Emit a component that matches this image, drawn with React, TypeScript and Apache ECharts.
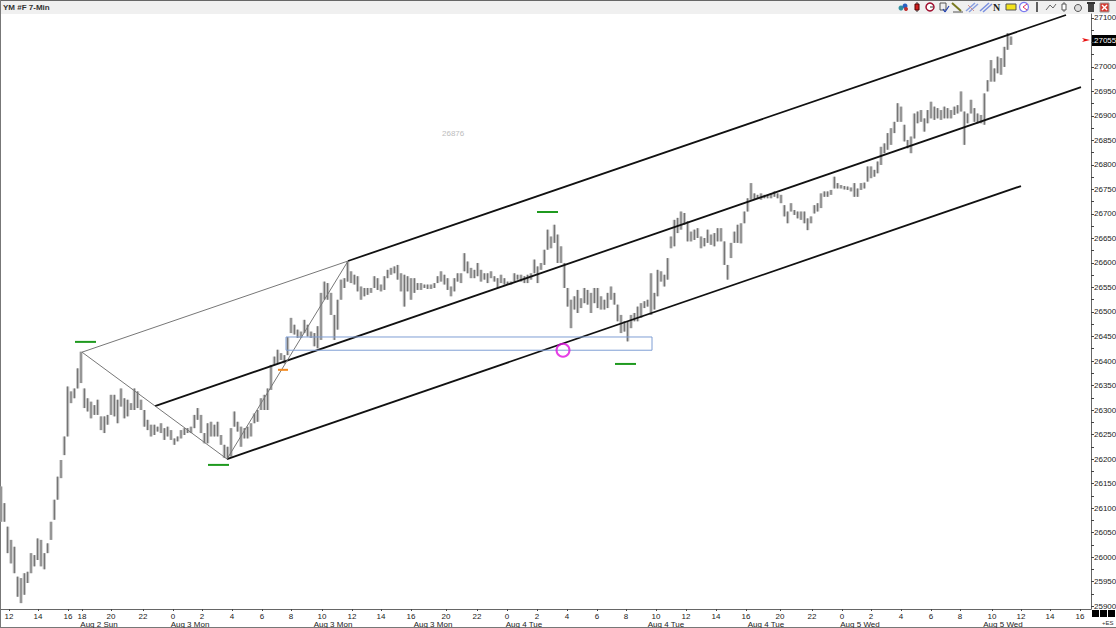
import React, { useEffect, useRef } from "react";
import * as echarts from "echarts";

const title = "YM #F 7-Min";
const lastPrice = 27055;
const markerText = "26876";
const extraLabel = "+ES";

// [high, low] of each bar
const highLow = [
[26144,26072],[26110,26072],[26062,26008],[26035,25987],[26021,25967],[25960,25919],[25957,25906],[25967,25923],[25970,25947],[26008,25967],
[26004,25981],[26038,25994],[26035,25981],[26008,25975],[26028,26008],[26072,26035],[26117,26076],[26164,26117],[26198,26161],[26246,26208],
[26348,26246],[26338,26314],[26344,26324],[26385,26344],[26419,26355],[26344,26304],[26324,26297],[26317,26283],[26310,26290],[26321,26290],
[26287,26259],[26287,26253],[26290,26270],[26331,26290],[26331,26287],[26321,26273],[26344,26307],[26324,26283],[26321,26287],[26314,26300],
[26344,26300],[26338,26304],[26321,26300],[26300,26266],[26280,26259],[26270,26246],[26270,26249],[26266,26256],[26273,26253],[26263,26239],
[26266,26246],[26259,26239],[26242,26229],[26246,26236],[26259,26242],[26263,26249],[26263,26253],[26266,26253],[26290,26263],[26304,26280],
[26290,26253],[26253,26232],[26273,26232],[26276,26246],[26270,26246],[26276,26246],[26249,26229],[26229,26202],[26225,26200],[26263,26205],
[26297,26266],[26276,26256],[26266,26225],[26263,26242],[26266,26242],[26273,26246],[26293,26273],[26300,26276],[26324,26300],[26331,26300],
[26344,26300],[26392,26341],[26409,26392],[26423,26395],[26416,26402],[26412,26395],[26449,26412],
[26488,26457],[26474,26454],[26464,26447],[26460,26447],[26484,26457],[26474,26450],[26460,26447],[26457,26430],[26471,26426],[26539,26443],
[26562,26525],[26559,26525],[26539,26494],[26494,26443],[26525,26464],[26566,26525],[26569,26549],[26603,26562],[26583,26559],[26576,26556],
[26573,26542],[26552,26525],[26549,26532],[26549,26535],[26549,26539],[26573,26549],[26569,26545],[26556,26542],[26573,26545],[26586,26569],
[26590,26576],[26593,26579],[26596,26566],[26579,26542],[26576,26511],[26573,26542],[26569,26525],[26569,26539],[26559,26545],[26559,26545],
[26556,26549],[26556,26547],[26556,26547],[26559,26549],[26573,26559],[26583,26562],[26576,26556],[26569,26545],[26552,26532],[26569,26542],
[26579,26562],[26579,26559],[26620,26583],[26603,26579],[26590,26569],[26586,26569],[26600,26573],[26586,26562],[26579,26566],[26579,26559],
[26583,26569],[26573,26562],[26569,26549],[26576,26559],[26569,26556],[26562,26556],[26562,26556],[26579,26562],[26576,26566],[26576,26562],
[26573,26559],[26576,26559],[26579,26566],[26607,26579],[26593,26559],[26600,26586],
[26627,26596],[26668,26627],[26654,26630],[26678,26641],[26658,26600],[26634,26600],[26600,26549],[26549,26511],[26525,26467],[26532,26505],
[26545,26498],[26528,26508],[26549,26518],[26545,26515],[26539,26498],[26549,26518],[26549,26508],[26532,26505],[26525,26505],[26539,26508],
[26552,26525],[26539,26515],[26515,26481],[26494,26457],[26481,26460],[26481,26440],[26494,26467],[26498,26481],[26511,26481],[26518,26488],
[26522,26508],[26525,26511],[26579,26494],[26539,26505],[26586,26532],[26583,26562],[26576,26552],[26610,26566],[26654,26630],[26688,26634],
[26692,26661],[26705,26668],[26702,26678],[26685,26644],[26664,26644],[26668,26647],[26671,26651],[26654,26630],[26651,26634],[26668,26641],
[26658,26637],[26661,26634],[26671,26644],[26671,26644],[26644,26596],[26596,26566],[26641,26610],[26664,26641],[26678,26641],
[26681,26640],[26705,26681],[26732,26705],[26763,26729],[26742,26729],[26739,26732],[26742,26729],[26739,26732],[26739,26732],[26742,26732],
[26746,26735],[26742,26732],[26739,26722],[26718,26695],[26705,26681],[26722,26705],[26708,26698],[26705,26691],[26705,26688],[26705,26681],
[26691,26667],[26695,26681],[26718,26701],[26722,26705],[26742,26712],[26746,26735],[26746,26735],[26749,26739],[26776,26752],[26763,26752],
[26759,26752],[26757,26750],[26756,26749],[26754,26746],[26763,26735],[26752,26735],[26763,26749],[26764,26752],[26797,26766],[26797,26773],
[26790,26776],[26807,26783],[26837,26800],[26844,26824],[26865,26831],[26875,26841],[26888,26865],[26926,26888],[26919,26888],[26882,26848],
[26851,26834],[26858,26824],[26905,26854],[26909,26885],[26912,26888],[26895,26868],[26912,26885],[26929,26895],[26919,26892],[26916,26895],
[26912,26892],[26919,26895],[26916,26895],[26912,26895],[26919,26902],[26922,26905],[26950,26909],[26909,26841],[26905,26885],[26933,26905],
[26916,26888],[26905,26885],[26902,26885],[26946,26882],[26973,26950],[27014,26970],[26997,26970],[27021,26987],[27018,26984],[27041,27000],
[27069,27035],[27062,27045],
];

// x position in bar units, y in price
const upperChannel = [[104.1,26604],[319.5,27106]];
const medianChannel = [[46.2,26308],[324,26959]];
const lowerChannel = [[67.8,26200],[306,26757]];
const swingLines = [[[24.3,26418],[104.1,26604]],[[24.3,26418],[67.8,26200]],[[67.8,26200],[104.1,26604]]];
const greenDashes = [[[22.2,26439],[28.5,26439]],[[62.1,26188],[68.4,26188]],[[160.8,26704],[167.1,26704]],[[184.2,26394],[190.5,26394]]];
const orangeDash = [[83.1,26382],[86.1,26382]];
const zoneBox = [[85.5,26449],[195.3,26449],[195.3,26422],[85.5,26422],[85.5,26449]];
const touchPoint = [[168.6,26422]];

const hourTicks = [2.4,11.1,20.1,24.3,33,42.6,51.6,60.3,69.3,78.3,87,96.3,105.3,114,123,133.5,142.8,151.8,160.8,169.8,178.8,187.5,196.5,205.5,214.5,223.5,233.7,243.3,252.3,261,270,279,287.7,297.3,306,314.7,323.7];
const hourLabels = ["12","14","16","18","20","22","0","2","4","6","8","10","12","14","16","20","22","0","2","4","6","8","10","12","14","16","20","22","0","2","4","6","8","10","12","14","16"];
const dateTicks = [29.4,56.7,99.6,129.6,156.9,199.5,229.5,257.7,300.6];
const dateLabels = ["Aug 2 Sun","Aug 3 Mon","Aug 3 Mon","Aug 3 Mon","Aug 4 Tue","Aug 4 Tue","Aug 4 Tue","Aug 5 Wed","Aug 5 Wed"];
const priceLabels = [27100,27000,26950,26900,26850,26800,26750,26700,26650,26600,26550,26500,26450,26400,26350,26300,26250,26200,26150,26100,26050,26000,25950,25900];
const priceTicks = [27100,27075,27050,27025,27000,26975,26950,26925,26900,26875,26850,26825,26800,26775,26750,26725,26700,26675,26650,26625,26600,26575,26550,26525,26500,26475,26450,26425,26400,26375,26350,26325,26300,26275,26250,26225,26200,26175,26150,26125,26100,26075,26050,26025,26000,25975,25950,25925,25900];

const FONT = "Liberation Sans";

function lineSeries(data: number[][], color: string, width: number) {
  return { type: "line", data, symbol: "none", silent: true, lineStyle: { color, width }, z: 5, animation: false };
}

function toolbar() {
  const ln = (x1: number, y1: number, x2: number, y2: number, stroke: string, lineWidth = 1) => ({ type: "line", shape: { x1, y1, x2, y2 }, style: { stroke, lineWidth } });
  return [
    { type: "circle", shape: { cx: 901, cy: 8, r: 2.5 }, style: { fill: "#2f8f9f" } },
    { type: "circle", shape: { cx: 905, cy: 6, r: 2.5 }, style: { fill: "#2a60c0" } },
    { type: "circle", shape: { cx: 906, cy: 9, r: 2 }, style: { fill: "#c03030" } },
    ln(917, 2, 917, 12, "#333"),
    { type: "rect", shape: { x: 915, y: 4, width: 4, height: 6 }, style: { fill: "#d02020", stroke: "#500" } },
    { type: "circle", shape: { cx: 930, cy: 7, r: 4 }, style: { fill: "#fff", stroke: "#a01030", lineWidth: 1.5 } },
    ln(930, 7, 933, 7, "#333"),
    { type: "rect", shape: { x: 940, y: 3, width: 6, height: 7 }, style: { fill: "#eee", stroke: "#555" } },
    ln(943, 9, 945, 12, "#2040b0", 1.2), ln(945, 12, 949, 6, "#2040b0", 1.2),
    ln(952, 3, 961, 11, "#7a7a20", 2), ln(953, 12, 963, 12, "#555"),
    ln(966, 11, 975, 3, "#8aa0e0", 1.5), ln(969, 12, 978, 4, "#8aa0e0", 1.5), ln(968, 5, 974, 11, "#d09090"),
    ln(980, 11, 989, 3, "#7a90e0", 1.5), ln(983, 12, 992, 4, "#7a90e0", 1.5),
    { type: "text", x: 993, y: 2, style: { text: "N", font: "bold 10px 'Liberation Serif'", fill: "#222" } },
    { type: "rect", shape: { x: 1006, y: 4, width: 10, height: 6 }, style: { fill: "#f2e21a", stroke: "#555" } },
    { type: "circle", shape: { cx: 1024, cy: 7, r: 4.5 }, style: { fill: "#fff", stroke: "#7a7af0", lineWidth: 1.2 } },
    ln(1023, 7, 1027, 4, "#e03060"), ln(1023, 7, 1027, 10, "#e03060"),
    ln(1037, 2, 1037, 12, "#222", 1.4),
    { type: "polyline", shape: { points: [[1046, 10], [1050, 5], [1053, 8], [1056, 4]] }, style: { stroke: "#666", fill: "none" } },
    ln(1064, 2, 1064, 12, "#666"),
    { type: "rect", shape: { x: 1062, y: 4, width: 4, height: 6 }, style: { fill: "#fff", stroke: "#555" } },
    { type: "circle", shape: { cx: 1078, cy: 8, r: 3.5 }, style: { fill: "#ddd", stroke: "#555" } },
    { type: "rect", shape: { x: 1088, y: 4, width: 6, height: 8 }, style: { fill: "#444" } },
    { type: "rect", shape: { x: 1087, y: 2, width: 8, height: 2 }, style: { fill: "#333" } },
    { type: "rect", shape: { x: 1100, y: 3, width: 9, height: 9 }, style: { fill: "#d83a30", stroke: "#999" } },
    ln(1102, 5, 1107, 10, "#fff", 1.4), ln(1107, 5, 1102, 10, "#fff", 1.4),
  ];
}

export default function App() {
  const ref = useRef<HTMLDivElement>(null);
  useEffect(() => {
    if (!ref.current) return;
    const chart = echarts.init(ref.current, undefined, { renderer: "svg" });
    const hourMap = new Map(hourTicks.map((v, i) => [v, hourLabels[i]]));
    const dateMap = new Map(dateTicks.map((v, i) => [v, dateLabels[i]]));
    chart.setOption({
      animation: false,
      backgroundColor: "#ffffff",
      grid: { left: 1, right: 25, top: 14, bottom: 19, containLabel: false, outerBoundsMode: "none" },
      xAxis: [
        {
          type: "value", min: 0, max: 327, position: "bottom",
          splitLine: { show: false },
          axisLine: { onZero: false, lineStyle: { color: "#666", width: 1 } },
          axisTick: { length: 2, lineStyle: { color: "#444" }, customValues: hourTicks },
          axisLabel: { customValues: hourTicks, formatter: (v: number) => hourMap.get(v) ?? "", fontFamily: FONT, fontSize: 8, color: "#222", margin: 3, showMinLabel: true, showMaxLabel: true, hideOverlap: false },
        },
        {
          type: "value", min: 0, max: 327, position: "bottom", offset: 8,
          splitLine: { show: false }, axisLine: { show: false }, axisTick: { show: false },
          axisLabel: { customValues: dateTicks, formatter: (v: number) => dateMap.get(v) ?? "", fontFamily: FONT, fontSize: 8, color: "#222", margin: 3, hideOverlap: false },
        },
      ],
      yAxis: {
        type: "value", min: 25894, max: 27108, position: "right",
        splitLine: { show: false },
        axisLine: { show: true, onZero: false, lineStyle: { color: "#666", width: 1 } },
        axisTick: { show: true, length: 3, lineStyle: { color: "#444" }, customValues: priceTicks },
        axisLabel: { customValues: priceLabels, fontFamily: FONT, fontSize: 8, color: "#222", margin: 3, formatter: (v: number) => String(v), showMinLabel: true, showMaxLabel: true },
      },
      series: [
        {
          type: "custom", silent: true, z: 3,
          data: highLow.map(([h, l], i) => [i, h, l]),
          encode: { x: 0, y: [1, 2] },
          renderItem: (_: unknown, api: any) => {
            const hi = api.coord([api.value(0), api.value(1)]);
            const lo = api.coord([api.value(0), api.value(2)]);
            return {
              type: "group",
              children: [
                { type: "line", shape: { x1: hi[0], y1: hi[1], x2: lo[0], y2: lo[1] }, style: { stroke: "#c6c6c6", lineWidth: 3.3 } },
                { type: "line", shape: { x1: hi[0], y1: hi[1], x2: lo[0], y2: lo[1] }, style: { stroke: "#666666", lineWidth: 1 } },
              ],
            };
          },
        },
        lineSeries(upperChannel, "#111", 1.8),
        lineSeries(medianChannel, "#111", 1.8),
        lineSeries(lowerChannel, "#111", 1.8),
        ...swingLines.map((d) => lineSeries(d, "#777", 1)),
        ...greenDashes.map((d) => lineSeries(d, "#1f9a1f", 2)),
        lineSeries(orangeDash, "#f58a1e", 2),
        lineSeries(zoneBox, "#7f9ed4", 1),
        {
          type: "scatter", data: touchPoint, symbol: "circle", symbolSize: 13, silent: true, z: 6,
          itemStyle: { color: "rgba(0,0,0,0)", borderColor: "#e010e0", borderWidth: 2 },
        },
      ],
      graphic: [
        { type: "rect", z: -1, shape: { x: 1, y: 1, width: 1115, height: 13 }, style: { fill: "#f0f0f0" } },
        { type: "rect", shape: { x: 0, y: 0, width: 1116, height: 1 }, style: { fill: "#666" } },
        { type: "rect", shape: { x: 0, y: 0, width: 1, height: 628 }, style: { fill: "#777" } },
        { type: "rect", shape: { x: 0, y: 627, width: 1116, height: 1 }, style: { fill: "#777" } },
        { type: "text", x: 3, y: 3, style: { text: title, font: `bold 8px '${FONT}'`, fill: "#333" } },
        { type: "text", x: 442, y: 129, style: { text: markerText, font: `8px '${FONT}'`, fill: "#bdbdbd" } },
        { type: "rect", shape: { x: 1092, y: 35, width: 24, height: 11 }, style: { fill: "#000" } },
        { type: "text", x: 1094, y: 36, style: { text: String(lastPrice), font: `8px '${FONT}'`, fill: "#fff" } },
        { type: "polygon", shape: { points: [[1082, 38], [1090, 40], [1082, 42], [1084, 40]] }, style: { fill: "#e81010" } },
        { type: "rect", shape: { x: 1092, y: 610, width: 7, height: 7 }, style: { fill: "#000" } },
        { type: "rect", shape: { x: 1100, y: 610, width: 7, height: 7 }, style: { fill: "#000" } },
        { type: "rect", shape: { x: 1108, y: 610, width: 7, height: 7 }, style: { fill: "#000" } },
        { type: "text", x: 1102, y: 620, style: { text: extraLabel, font: `6px '${FONT}'`, fill: "#333" } },
        ...toolbar(),
      ],
    });
    return () => chart.dispose();
  }, []);
  return <div ref={ref} style={{ position: "fixed", left: 0, top: 0, width: 1116, height: 628 }} />;
}
